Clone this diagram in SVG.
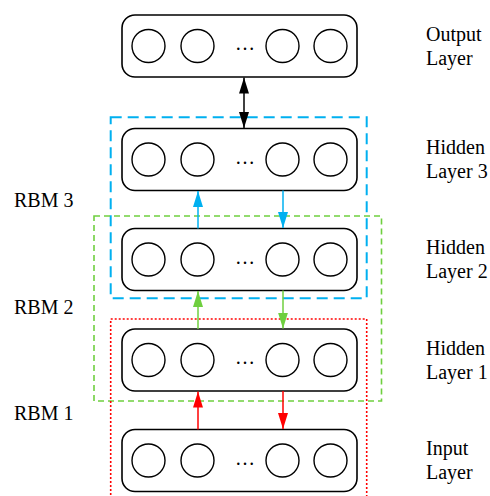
<svg xmlns="http://www.w3.org/2000/svg" width="490" height="496" viewBox="0 0 490 496">
<defs>
<marker id="ak" viewBox="0 0 16 10" refX="16" refY="5" markerWidth="16" markerHeight="10" markerUnits="userSpaceOnUse" orient="auto-start-reverse"><path d="M0,0 L16,5 L0,10 z" fill="#000"/></marker>
<marker id="ab" viewBox="0 0 16 10" refX="16" refY="5" markerWidth="16" markerHeight="10" markerUnits="userSpaceOnUse" orient="auto"><path d="M0,0 L16,5 L0,10 z" fill="#00B0F0"/></marker>
<marker id="ag" viewBox="0 0 16 10" refX="16" refY="5" markerWidth="16" markerHeight="10" markerUnits="userSpaceOnUse" orient="auto"><path d="M0,0 L16,5 L0,10 z" fill="#6FCF3F"/></marker>
<marker id="ar" viewBox="0 0 16 10" refX="16" refY="5" markerWidth="16" markerHeight="10" markerUnits="userSpaceOnUse" orient="auto"><path d="M0,0 L16,5 L0,10 z" fill="#FF0000"/></marker>
</defs>

<g font-family="Liberation Serif" font-size="20" fill="#000">
<g id="output-layer">
<rect x="122" y="15" width="235" height="62" rx="13" fill="#fff" stroke="#000" stroke-width="1.6"/>
<g fill="#fff" stroke="#000" stroke-width="1.4"><circle cx="148.5" cy="46" r="16.5"/><circle cx="197.5" cy="46" r="16.5"/><circle cx="282.5" cy="46" r="16.5"/><circle cx="330.5" cy="46" r="16.5"/></g>
<text x="245" y="50" text-anchor="middle">&#8230;</text>
<text x="426" y="40.5">Output</text><text x="426" y="64.5">Layer</text>
</g>
<g id="hidden-layer-3">
<rect x="122" y="128.5" width="235" height="62" rx="13" fill="#fff" stroke="#000" stroke-width="1.6"/>
<g fill="#fff" stroke="#000" stroke-width="1.4"><circle cx="148.5" cy="159.5" r="16.5"/><circle cx="197.5" cy="159.5" r="16.5"/><circle cx="282.5" cy="159.5" r="16.5"/><circle cx="330.5" cy="159.5" r="16.5"/></g>
<text x="245" y="163.5" text-anchor="middle">&#8230;</text>
<text x="426" y="154">Hidden</text><text x="426" y="178">Layer 3</text>
</g>
<g id="hidden-layer-2">
<rect x="122" y="228.5" width="235" height="62" rx="13" fill="#fff" stroke="#000" stroke-width="1.6"/>
<g fill="#fff" stroke="#000" stroke-width="1.4"><circle cx="148.5" cy="259.5" r="16.5"/><circle cx="197.5" cy="259.5" r="16.5"/><circle cx="282.5" cy="259.5" r="16.5"/><circle cx="330.5" cy="259.5" r="16.5"/></g>
<text x="245" y="263.5" text-anchor="middle">&#8230;</text>
<text x="426" y="254">Hidden</text><text x="426" y="278">Layer 2</text>
</g>
<g id="hidden-layer-1">
<rect x="122" y="329" width="235" height="62" rx="13" fill="#fff" stroke="#000" stroke-width="1.6"/>
<g fill="#fff" stroke="#000" stroke-width="1.4"><circle cx="148.5" cy="360" r="16.5"/><circle cx="197.5" cy="360" r="16.5"/><circle cx="282.5" cy="360" r="16.5"/><circle cx="330.5" cy="360" r="16.5"/></g>
<text x="245" y="364" text-anchor="middle">&#8230;</text>
<text x="426" y="354.5">Hidden</text><text x="426" y="378.5">Layer 1</text>
</g>
<g id="input-layer">
<rect x="122" y="429.5" width="235" height="62" rx="13" fill="#fff" stroke="#000" stroke-width="1.6"/>
<g fill="#fff" stroke="#000" stroke-width="1.4"><circle cx="148.5" cy="460.5" r="16.5"/><circle cx="197.5" cy="460.5" r="16.5"/><circle cx="282.5" cy="460.5" r="16.5"/><circle cx="330.5" cy="460.5" r="16.5"/></g>
<text x="245" y="464.5" text-anchor="middle">&#8230;</text>
<text x="426" y="455">Input</text><text x="426" y="479">Layer</text>
</g>

<g id="rbm3"><rect x="110.7" y="117.3" width="256" height="181" fill="none" stroke="#00B0F0" stroke-width="2" stroke-dasharray="11 6"/><text x="14" y="207">RBM 3</text></g>
<g id="rbm2"><rect x="94" y="216" width="287.5" height="185" fill="none" stroke="#6FCF3F" stroke-width="1.6" stroke-dasharray="6 4"/><text x="14" y="313.5">RBM 2</text></g>
<g id="rbm1"><rect x="110.7" y="319" width="256" height="200" fill="none" stroke="#FF0000" stroke-width="1.6" stroke-dasharray="2 2"/><text x="14" y="420">RBM 1</text></g>
</g>

<g id="connectors" fill="none" stroke-width="1.5">
<line x1="244" y1="77.5" x2="244" y2="128" stroke="#000" marker-start="url(#ak)" marker-end="url(#ak)"/>
<line x1="198" y1="228.5" x2="198" y2="191" stroke="#00B0F0" marker-end="url(#ab)"/>
<line x1="283" y1="190.5" x2="283" y2="228" stroke="#00B0F0" marker-end="url(#ab)"/>
<line x1="198" y1="329" x2="198" y2="291" stroke="#6FCF3F" marker-end="url(#ag)"/>
<line x1="283" y1="290.5" x2="283" y2="328.5" stroke="#6FCF3F" marker-end="url(#ag)"/>
<line x1="198" y1="429.5" x2="198" y2="391.5" stroke="#FF0000" marker-end="url(#ar)"/>
<line x1="283" y1="391" x2="283" y2="429" stroke="#FF0000" marker-end="url(#ar)"/>
</g>
</svg>
